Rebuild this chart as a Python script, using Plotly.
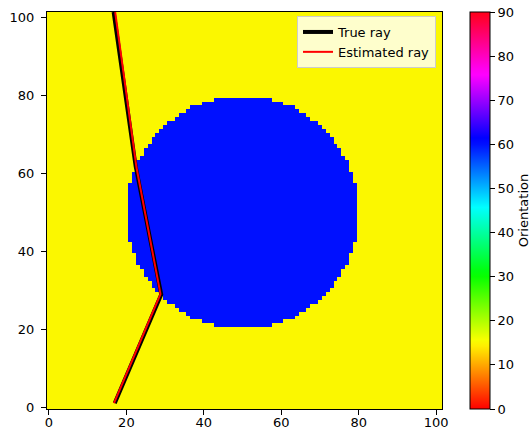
import numpy as np
import plotly.graph_objects as go

# ---- data ----
GRID_SIZE = 102
BACKGROUND_ORIENTATION = 15
CIRCLE_ORIENTATION = 60
CIRCLE_CENTER_X = 50
CIRCLE_CENTER_Y = 50
CIRCLE_RADIUS = 30

true_ray_x = [17.0, 29.0, 22.4, 16.7]
true_ray_y = [1.0, 28.9, 61.8, 101.5]

est_ray_x = [16.8, 28.8, 22.6, 17.1]
est_ray_y = [1.0, 29.0, 61.6, 101.5]

colorbar_ticks = [0, 10, 20, 30, 40, 50, 60, 70, 80, 90]
axis_ticks = [0, 20, 40, 60, 80, 100]

# ---- build orientation field ----
cells = np.arange(GRID_SIZE)
X, Y = np.meshgrid(cells, cells)
inside = (X - CIRCLE_CENTER_X) ** 2 + (Y - CIRCLE_CENTER_Y) ** 2 < CIRCLE_RADIUS ** 2
z = np.where(inside, CIRCLE_ORIENTATION, BACKGROUND_ORIENTATION)

# matplotlib 'hsv' colormap
hsv_scale = [
    [0.0, "rgb(255,0,0)"],
    [0.158730, "rgb(255,239,0)"],
    [0.174603, "rgb(247,255,0)"],
    [0.333333, "rgb(8,255,0)"],
    [0.349206, "rgb(0,255,16)"],
    [0.507937, "rgb(0,255,255)"],
    [0.666667, "rgb(0,16,255)"],
    [0.682540, "rgb(0,0,255)"],
    [0.841270, "rgb(255,0,255)"],
    [0.857143, "rgb(255,0,239)"],
    [1.0, "rgb(255,0,24)"],
]

FONT = "DejaVu Sans"
W, H = 530, 430
L, R, T, B = 47, 88, 12, 21
PLOT_W = W - L - R
PLOT_H = H - T - B

fig = go.Figure()
fig.add_trace(go.Heatmap(
    x=cells, y=cells, z=z,
    colorscale=hsv_scale, zmin=0, zmax=90,
    showscale=True,
    colorbar=dict(
        x=(470 - L) / PLOT_W, xanchor="left", xref="paper",
        y=0.5, yanchor="middle", len=1.0, lenmode="fraction",
        thickness=20, thicknessmode="pixels",
        outlinecolor="black", outlinewidth=1,
        tickvals=colorbar_ticks, ticks="outside", ticklen=5,
        tickcolor="black", tickfont=dict(family=FONT, size=13, color="black"),
        title=dict(text="Orientation", side="right",
                   font=dict(family=FONT, size=13, color="black")),
        xpad=0, ypad=0,
    ),
    hoverinfo="skip",
))
fig.add_trace(go.Scatter(
    x=true_ray_x, y=true_ray_y, mode="lines", name="True ray",
    line=dict(color="black", width=4),
))
fig.add_trace(go.Scatter(
    x=est_ray_x, y=est_ray_y, mode="lines", name="Estimated ray",
    line=dict(color="red", width=2),
))

axis_common = dict(
    range=[-0.5, 101.5], tickvals=axis_ticks, ticks="outside", ticklen=5,
    tickcolor="black", showline=True, linecolor="black", linewidth=1,
    mirror=True, showgrid=False, zeroline=False, automargin=False,
    tickfont=dict(family=FONT, size=13, color="black"),
)
fig.update_xaxes(**axis_common, ticklabelstandoff=-4)
fig.update_yaxes(**axis_common, ticklabelstandoff=4)

fig.update_layout(
    width=W, height=H,
    margin=dict(l=L, r=R, t=T, b=B, autoexpand=False),
    paper_bgcolor="white", plot_bgcolor="white",
    font=dict(family=FONT, size=13, color="black"),
    legend=dict(
        x=(436 - L) / PLOT_W, y=1 - (16 - T) / PLOT_H,
        xanchor="right", yanchor="top",
        bgcolor="rgba(255,255,255,0.8)", bordercolor="#cccccc", borderwidth=1,
        font=dict(family=FONT, size=13, color="black"),
        itemwidth=30, tracegroupgap=0,
    ),
    showlegend=True,
)

fig.write_html(
    "out.html",
    config={"displayModeBar": False},
    post_script="document.body.style.margin='0';"
                "document.documentElement.style.overflow='hidden';",
)
